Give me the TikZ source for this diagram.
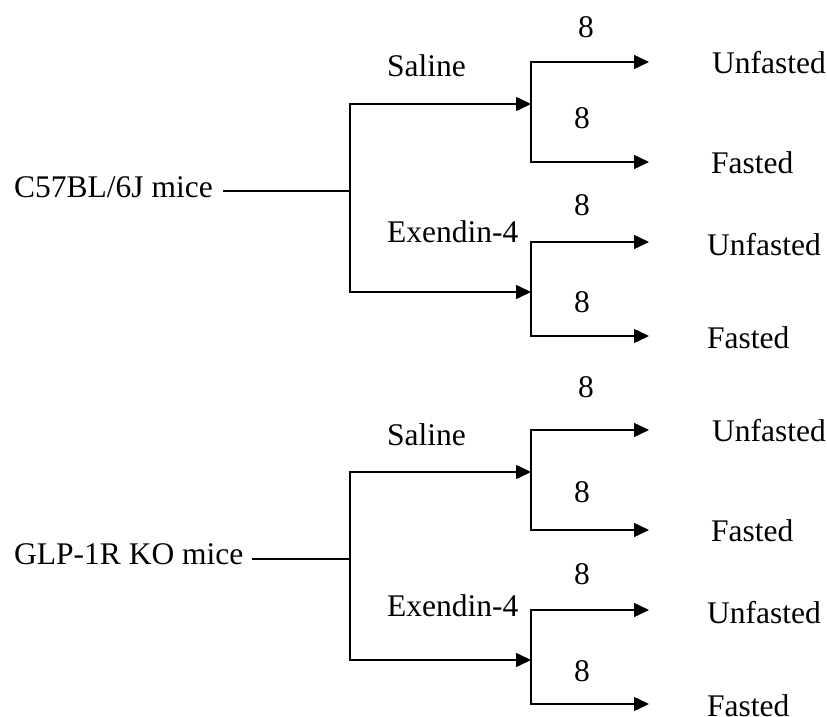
\documentclass[tikz,border=0pt]{standalone}
\usepackage{fontspec}
\setmainfont{Liberation Serif}
\usetikzlibrary{arrows.meta}
\begin{document}
\begin{tikzpicture}[x=1pt,y=-1pt,
  lbl/.style={inner sep=0pt,font=\fontsize{31.5}{38}\selectfont},
  wire/.style={line width=1.5pt},
  arr/.style={line width=1.5pt,-{Triangle[length=15pt,width=14pt]}},
  ]
\useasboundingbox (0,0) rectangle (827,717);
% ---------- top group ----------
\node[lbl,anchor=base west] (c57) at (14,197) {C57BL/6J mice};
\coordinate (c57s) at (223,191);
\coordinate (j1) at (350,191);
\coordinate (a1) at (531,104);
\coordinate (a2) at (531,292);
\coordinate (u1) at (649,62);
\coordinate (f1) at (649,162);
\coordinate (u2) at (649,242);
\coordinate (f2) at (649,336);
\node[lbl,anchor=base west] (sal1) at (387,77) {Saline};
\node[lbl,anchor=base west] (ex1) at (387,242) {Exendin-4};
\node[lbl,anchor=base] (n1) at (586,38) {8};
\node[lbl,anchor=base] (n2) at (582,128) {8};
\node[lbl,anchor=base] (n3) at (582,215) {8};
\node[lbl,anchor=base] (n4) at (582,312) {8};
\node[lbl,anchor=base west] (tu1) at (712,74) {Unfasted};
\node[lbl,anchor=base west] (tf1) at (711,173) {Fasted};
\node[lbl,anchor=base west] (tu2) at (707,255) {Unfasted};
\node[lbl,anchor=base west] (tf2) at (707,348) {Fasted};
\draw[wire] (c57s) -- (j1);
\draw[arr] (j1) |- (a1);
\draw[arr] (j1) |- (a2);
\draw[arr] (a1) |- (u1);
\draw[arr] (a1) |- (f1);
\draw[arr] (a2) |- (u2);
\draw[arr] (a2) |- (f2);
% ---------- bottom group ----------
\node[lbl,anchor=base west] (glp) at (14,564) {GLP-1R KO mice};
\coordinate (glps) at (252,559);
\coordinate (j2) at (350,559);
\coordinate (b1) at (531,472);
\coordinate (b2) at (531,660);
\coordinate (u3) at (649,430);
\coordinate (f3) at (649,530);
\coordinate (u4) at (649,610);
\coordinate (f4) at (649,704);
\node[lbl,anchor=base west] (sal2) at (387,445) {Saline};
\node[lbl,anchor=base west] (ex2) at (387,616) {Exendin-4};
\node[lbl,anchor=base] (n5) at (586,397) {8};
\node[lbl,anchor=base] (n6) at (582,502) {8};
\node[lbl,anchor=base] (n7) at (582,584) {8};
\node[lbl,anchor=base] (n8) at (582,681) {8};
\node[lbl,anchor=base west] (tu3) at (712,441) {Unfasted};
\node[lbl,anchor=base west] (tf3) at (711,541) {Fasted};
\node[lbl,anchor=base west] (tu4) at (707,623) {Unfasted};
\node[lbl,anchor=base west] (tf4) at (707,716) {Fasted};
\draw[wire] (glps) -- (j2);
\draw[arr] (j2) |- (b1);
\draw[arr] (j2) |- (b2);
\draw[arr] (b1) |- (u3);
\draw[arr] (b1) |- (f3);
\draw[arr] (b2) |- (u4);
\draw[arr] (b2) |- (f4);
\end{tikzpicture}
\end{document}
